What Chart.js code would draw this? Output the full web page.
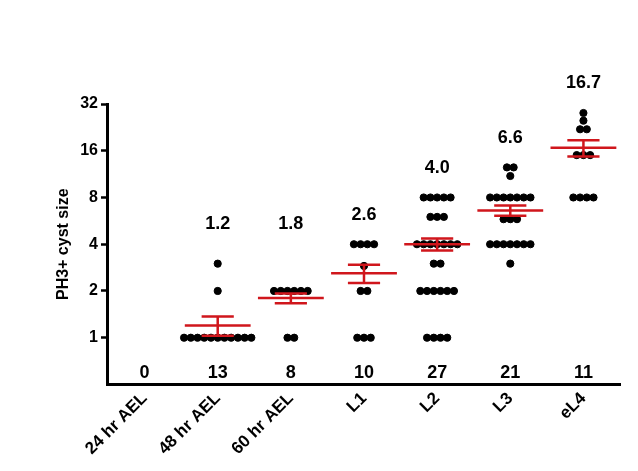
<!DOCTYPE html>
<html><head><script src="https://cdn.jsdelivr.net/npm/chart.js@4"></script>
<style>body{margin:0;background:#fff}#w{width:638px;height:471px}</style></head>
<body><div id="w"><canvas id="c"></canvas></div>
<script>
const categories=["24 hr AEL","48 hr AEL","60 hr AEL","L1","L2","L3","eL4"];
const values=[
 [],
 [1,1,1,1,1,1,1,1,1,1,1,2,3],
 [1,1,2,2,2,2,2,2],
 [1,1,1,2,2,2.9,4,4,4,4],
 [1,1,1,1,2,2,2,2,2,2,3,3,4,4,4,4,4,4,4,6,6,6,8,8,8,8,8],
 [3,4,4,4,4,4,4,4,5.8,5.8,5.8,8,8,8,8,8,8,8,11,12.5,12.5],
 [8,8,8,8,15,15,15,22,22,25,28]
];
const means=[null,1.2,1.8,2.6,4.0,6.6,16.7];
const sems=[null,0.17,0.13,0.35,0.35,0.5,2.0];
const meanLabels=["","1.2","1.8","2.6","4.0","6.6","16.7"];
const counts=["0","13","8","10","27","21","11"];
const yTicks=[1,2,4,8,16,32];

const pts=[];
values.forEach((arr,i)=>{
  const groups={};
  arr.forEach(v=>{(groups[v]=groups[v]||[]).push(v);});
  Object.keys(groups).forEach(k=>{
    const g=groups[k],n=g.length;
    g.forEach((v,j)=>pts.push({x:i+(j-(n-1)/2)*0.092,y:v}));
  });
});
const font="'Liberation Sans', Arial, sans-serif";
const extra={id:'extra',afterDatasetsDraw(ch){
  const c=ch.ctx,x=ch.scales.x,y=ch.scales.y;
  c.save();
  c.strokeStyle='#d0161c';c.lineWidth=2.5;
  means.forEach((m,i)=>{
    if(m==null)return;
    const cx=x.getPixelForValue(i),ym=y.getPixelForValue(m),
      yt=y.getPixelForValue(m+sems[i]),yb=y.getPixelForValue(m-sems[i]);
    const hw=x.getPixelForValue(i+0.45)-cx,cw=x.getPixelForValue(i+0.22)-cx;
    c.beginPath();
    c.moveTo(cx-hw,ym);c.lineTo(cx+hw,ym);
    c.moveTo(cx,yt);c.lineTo(cx,yb);
    c.moveTo(cx-cw,yt);c.lineTo(cx+cw,yt);
    c.moveTo(cx-cw,yb);c.lineTo(cx+cw,yb);
    c.stroke();
  });
  c.fillStyle='#000';c.font='bold 18px '+font;c.textAlign='center';c.textBaseline='middle';
  values.forEach((arr,i)=>{
    const cx=x.getPixelForValue(i);
    if(meanLabels[i]){
      const mx=Math.max(...arr);
      c.fillText(meanLabels[i],cx,y.getPixelForValue(Math.max(mx*1.55,5.4)));
    }
    c.fillText(counts[i],cx,ch.chartArea.bottom-11);
  });
  c.restore();
}};
new Chart(document.getElementById('c'),{
 type:'scatter',
 data:{datasets:[{data:pts,backgroundColor:'#000',borderColor:'#000',pointRadius:3.6,pointHoverRadius:3.6}]},
 options:{responsive:true,maintainAspectRatio:false,animation:false,
  layout:{padding:{top:104,right:18,left:50,bottom:8}},
  plugins:{legend:{display:false},tooltip:{enabled:false}},
  scales:{
   x:{type:'linear',min:-0.5,max:6.5,
     afterBuildTicks(s){s.ticks=categories.map((_,i)=>({value:i}));},
     ticks:{callback:(v)=>categories[v]??'',maxRotation:45,minRotation:45,color:'#000',font:{family:font,size:17,weight:'bold'},autoSkip:false,padding:4},
     grid:{display:false,drawTicks:false},border:{color:'#000',width:3}},
   y:{type:'logarithmic',min:0.5,max:32,
     afterBuildTicks(s){s.ticks=yTicks.map(v=>({value:v}));},
     ticks:{callback:v=>String(v),color:'#000',font:{family:font,size:16,weight:'bold'},padding:3},
     grid:{display:true,drawOnChartArea:false,drawTicks:true,tickLength:7,tickWidth:2.5,tickColor:'#000'},
     border:{color:'#000',width:3},
     title:{display:true,text:'PH3+ cyst size',color:'#000',font:{family:font,size:16,weight:'bold'}}}
  }},
 plugins:[extra]
});
</script></body></html>
